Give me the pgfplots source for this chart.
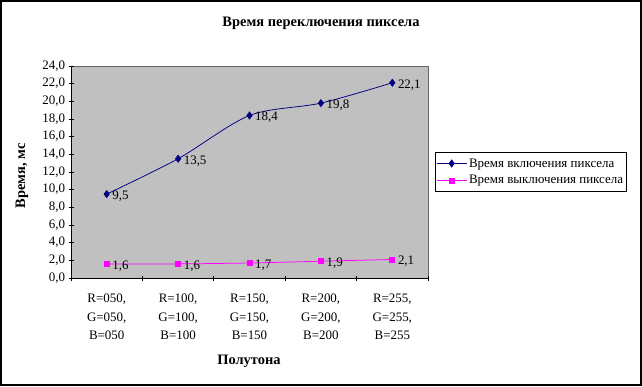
\documentclass[border=0pt]{standalone}
\usepackage{pgfplots}
\pgfplotsset{compat=1.18}
\usepackage{fontspec}
\setmainfont{Liberation Serif}
\definecolor{plotgray}{HTML}{C0C0C0}
\definecolor{navyc}{HTML}{000080}
\definecolor{magc}{HTML}{FF00FF}
\newcommand{\tfont}{\fontsize{13}{18.5}\selectfont}
\begin{document}
\begin{tikzpicture}[x=1bp,y=1bp]
\useasboundingbox (0,0) rectangle (642,386);
\draw[line width=1.2bp] (1,1) rectangle (641,385);
\node[font=\fontsize{14.5}{16}\selectfont\bfseries] at (321,363) {Время переключения пиксела};
\node[rotate=90, font=\fontsize{14.5}{16}\selectfont\bfseries] at (22,210) {Время, мс};
\node[font=\fontsize{14.5}{16}\selectfont\bfseries] at (249,25) {Полутона};
\begin{axis}[
  at={(71bp,108bp)}, anchor=south west,
  width=357bp, height=212bp, scale only axis,
  xmin=0.5, xmax=5.5, ymin=0, ymax=24,
  ytick={0,2,...,24},
  xtick={0.5,1.5,...,5.5},
  x tick label as interval,
  xticklabels={{R=050,\\G=050,\\B=050},{R=100,\\G=100,\\B=100},{R=150,\\G=150,\\B=150},{R=200,\\G=200,\\B=200},{R=255,\\G=255,\\B=255}},
  xticklabel style={align=center, font=\tfont, yshift=-10bp},
  yticklabel style={font=\tfont, /pgf/number format/.cd, fixed, fixed zerofill, precision=1, use comma, assume math mode=true},
  /pgf/number format/assume math mode=true,
  tick align=outside, major tick length=5bp,
  tick style={black, line width=0.75bp},
  axis lines=left, axis line style={-, black, line width=0.75bp},
  axis background/.style={fill=plotgray, draw=gray!80!black, line width=0.75bp},
  legend style={at={(1,0.5)}, anchor=west, xshift=7bp, draw=black, fill=white, font=\tfont, line width=0.6bp, row sep=3bp, inner xsep=1bp, inner ysep=4bp},
  legend cell align=left,
  legend image code/.code={\draw[mark repeat=2,mark phase=2] plot coordinates {(0bp,0bp) (15bp,0bp) (30bp,0bp)};},
  nodes near coords={\pgfmathprintnumber[fixed,fixed zerofill,precision=1,use comma,assume math mode=true]{\pgfplotspointmeta}},
  every node near coord/.append style={anchor=west, font=\tfont, text=black, xshift=2bp, yshift=-2bp},
]
\addplot[navyc, line width=0.75bp, smooth, mark=diamond*, mark size=3.5bp, mark options={fill=navyc, draw=navyc}]
  coordinates {(1,9.5) (2,13.5) (3,18.4) (4,19.8) (5,22.1)};
\addlegendentry{Время включения пиксела}
\addplot[magc, line width=0.75bp, smooth, mark=square*, mark size=2.5bp, mark options={fill=magc, draw=magc}]
  coordinates {(1,1.6) (2,1.6) (3,1.7) (4,1.9) (5,2.1)};
\addlegendentry{Время выключения пиксела}
\end{axis}
\end{tikzpicture}
\end{document}
